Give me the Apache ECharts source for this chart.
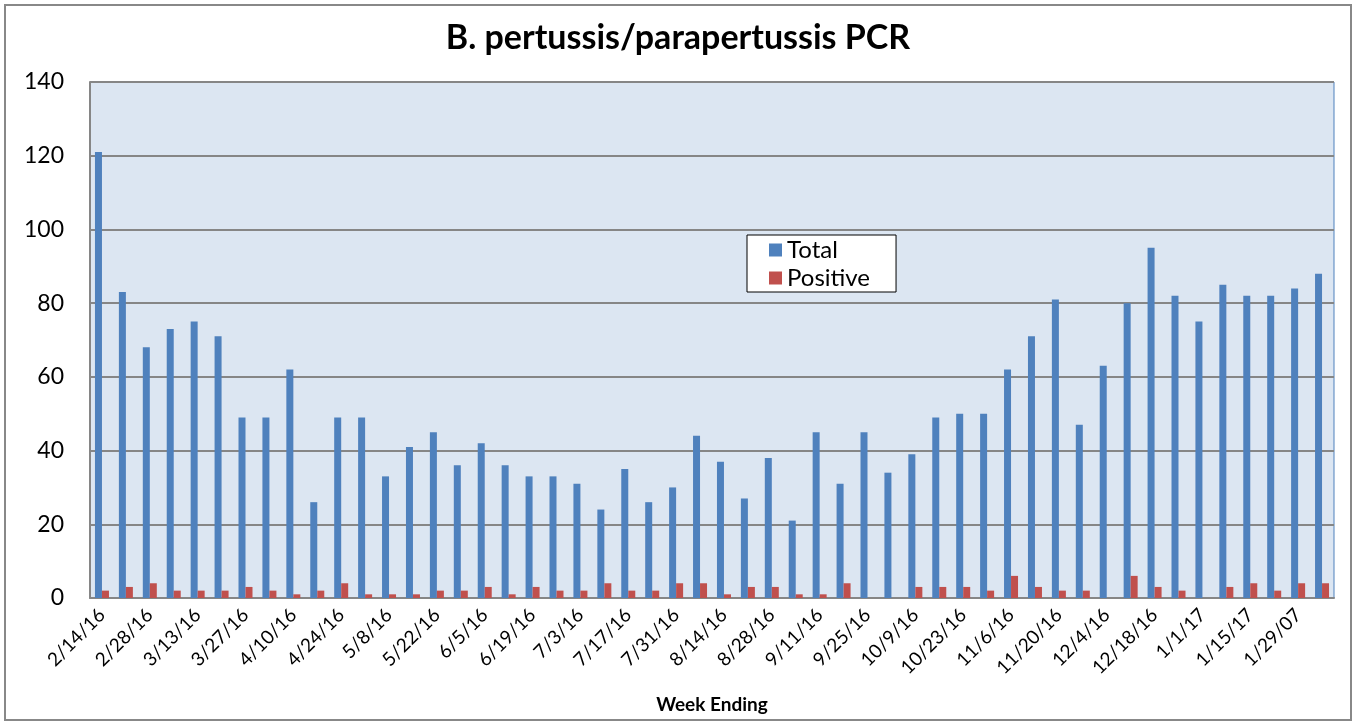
<!DOCTYPE html>
<html>
<head>
<meta charset="utf-8">
<script src="https://cdn.jsdelivr.net/npm/echarts@6/dist/echarts.min.js"></script>
<style>
html,body{margin:0;padding:0;background:#fff;}
#chart{width:1356px;height:727px;}
</style>
</head>
<body>
<div id="chart"></div>
<script>
var weeks = ['2/14/16','2/21/16','2/28/16','3/6/16','3/13/16','3/20/16','3/27/16','4/3/16','4/10/16','4/17/16',
  '4/24/16','5/1/16','5/8/16','5/15/16','5/22/16','5/29/16','6/5/16','6/12/16','6/19/16','6/26/16',
  '7/3/16','7/10/16','7/17/16','7/24/16','7/31/16','8/7/16','8/14/16','8/21/16','8/28/16','9/4/16',
  '9/11/16','9/18/16','9/25/16','10/2/16','10/9/16','10/16/16','10/23/16','10/30/16','11/6/16','11/13/16',
  '11/20/16','11/27/16','12/4/16','12/11/16','12/18/16','12/25/16','1/1/17','1/8/17','1/15/17','1/22/17',
  '1/29/07','2/5/17'];
var total = [121,83,68,73,75,71,49,49,62,26,
  49,49,33,41,45,36,42,36,33,33,
  31,24,35,26,30,44,37,27,38,21,
  45,31,45,34,39,49,50,50,62,71,
  81,47,63,80,95,82,75,85,82,82,
  84,88];
var positive = [2,3,4,2,2,2,3,2,1,2,
  4,1,1,1,2,2,3,1,3,2,
  2,4,2,2,4,4,1,3,3,1,
  1,4,0,0,3,3,3,2,6,3,
  2,2,0,6,3,2,0,3,4,2,
  4,4];
var yTicks = [0, 140, 20]; // min, max, step

var font = 'Lato, "Open Sans", sans-serif';
var myChart = echarts.init(document.getElementById('chart'));
var option = {
    animation: false,
    textStyle: {fontFamily: font},
    title: {
        text: 'B. pertussis/parapertussis PCR',
        left: 'center',
        top: 16,
        textStyle: {fontSize: 34, fontWeight: 'bold', color: '#000', fontFamily: font}
    },
    legend: {
        left: 747,
        top: 235,
        orient: 'vertical',
        icon: 'rect',
        itemWidth: 13,
        itemHeight: 13,
        itemGap: 4,
        padding: [3, 26, 2, 22],
        backgroundColor: '#fff',
        borderColor: '#000',
        borderWidth: 1,
        textStyle: {fontSize: 24, color: '#000', fontFamily: font}
    },
    grid: {
        left: 90, right: 22, top: 82, bottom: 129,
        show: true,
        backgroundColor: '#DCE6F2',
        borderColor: '#4F81BD',
        borderWidth: 1
    },
    xAxis: {
        type: 'category',
        data: weeks,
        name: 'Week Ending',
        nameLocation: 'middle',
        nameGap: 97,
        nameTextStyle: {fontSize: 19, fontWeight: 'bold', color: '#000', fontFamily: font},
        axisLine: {lineStyle: {color: '#868686', width: 2}},
        axisTick: {show: false},
        axisLabel: {interval: 1, rotate: 45, fontSize: 19, color: '#000', margin: 14, fontFamily: font}
    },
    yAxis: {
        type: 'value',
        min: yTicks[0],
        max: yTicks[1],
        interval: yTicks[2],
        axisLine: {show: true, lineStyle: {color: '#868686', width: 2}},
        axisTick: {show: false},
        axisLabel: {fontSize: 23, color: '#000', margin: 26, fontFamily: font},
        splitLine: {lineStyle: {color: '#868686', width: 2}}
    },
    graphic: [{
        type: 'rect',
        shape: {x: 5, y: 5, width: 1346, height: 715},
        style: {fill: 'none', stroke: '#888', lineWidth: 2},
        silent: true
    }],
    series: [{
        name: 'Total',
        type: 'bar',
        data: total,
        barWidth: 7,
        barGap: '0%',
        itemStyle: {color: '#4F81BD'}
    }, {
        name: 'Positive',
        type: 'bar',
        data: positive,
        barWidth: 7,
        itemStyle: {color: '#C0504D'}
    }]
};
myChart.setOption(option, true);
</script>
</body>
</html>
